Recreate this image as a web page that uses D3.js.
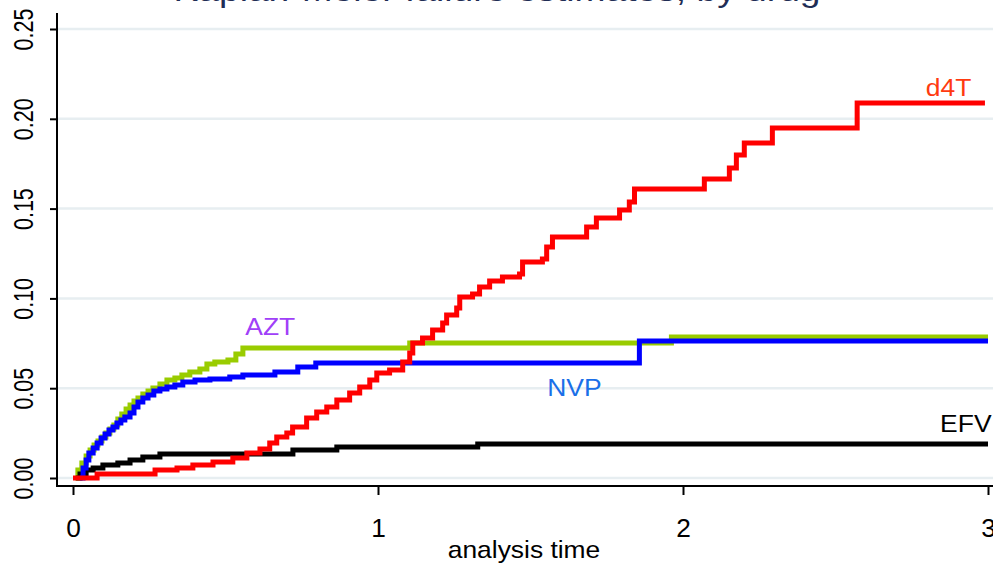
<!DOCTYPE html>
<html>
<head>
<meta charset="utf-8">
<script src="https://cdnjs.cloudflare.com/ajax/libs/d3/7.8.5/d3.min.js"></script>
<style>
body{margin:0;background:#fff;}
text{font-family:"Liberation Sans",Arial,sans-serif;}
</style>
</head>
<body>
<div id="km_div"></div>
<script>
////////////////////////////////////////
////////////////////////////////////////
////////////////////////////////////////

var km_w = 993;
var km_h = 566;

// analysis time (years) / failure estimate, per drug
var azt_time = [0.007,0.016,0.029,0.043,0.056,0.069,0.082,0.095,0.108,0.121,0.134,0.147,0.160,0.174,0.187,0.200,0.213,0.229,0.246,0.262,0.285,0.308,0.334,0.357,0.383,0.416,0.439,0.465,0.508,0.534,0.557,1.104,1.962,3.0];
var azt_fail = [0,0.0045,0.0084,0.0122,0.0156,0.0184,0.0206,0.0228,0.0251,0.0273,0.0295,0.0329,0.0356,0.0384,0.0406,0.0429,0.0445,0.0468,0.0484,0.0501,0.0523,0.0546,0.0557,0.0573,0.059,0.0607,0.0635,0.0646,0.0657,0.069,0.0724,0.0752,0.0785,0.0785];

var nvp_time = [0.023,0.033,0.043,0.052,0.066,0.079,0.092,0.105,0.118,0.131,0.144,0.157,0.170,0.187,0.200,0.213,0.229,0.246,0.265,0.285,0.308,0.334,0.360,0.400,0.449,0.514,0.557,0.662,0.737,0.796,1.857,3.0];
var nvp_fail = [0,0.0056,0.01,0.0139,0.0167,0.0195,0.0223,0.0245,0.0267,0.0284,0.0306,0.0323,0.034,0.0362,0.0395,0.0423,0.0445,0.0462,0.0484,0.0496,0.0507,0.0518,0.0535,0.0546,0.0551,0.0562,0.0573,0.059,0.0618,0.064,0.0763,0.0763];

var efv_time = [0.01,0.023,0.043,0.066,0.098,0.147,0.187,0.229,0.285,0.721,0.865,1.327,3.0];
var efv_fail = [0,0.0022,0.0045,0.0056,0.0072,0.0084,0.01,0.0117,0.0134,0.0156,0.0173,0.0189,0.0189];

var d4t_time = [0,0.079,0.269,0.341,0.393,0.459,0.524,0.57,0.613,0.645,0.668,0.701,0.72,0.766,0.799,0.832,0.865,0.907,0.94,0.973,0.996,1.038,1.081,1.104,1.114,1.146,1.179,1.212,1.225,1.258,1.268,1.31,1.333,1.366,1.408,1.464,1.474,1.539,1.553,1.572,1.684,1.716,1.792,1.824,1.841,2.07,2.152,2.175,2.201,2.293,2.571,2.99];
var d4t_fail = [0,0.0022,0.0045,0.0056,0.0072,0.0089,0.0111,0.0139,0.0161,0.0195,0.0228,0.0251,0.0284,0.0334,0.0367,0.0395,0.0434,0.0473,0.0507,0.0546,0.0585,0.0601,0.0646,0.0696,0.0752,0.078,0.0824,0.0863,0.0908,0.0947,0.1008,0.1024,0.1063,0.1097,0.1119,0.1136,0.1203,0.1219,0.1286,0.1342,0.1398,0.1448,0.1492,0.1537,0.1609,0.1665,0.1726,0.1798,0.1865,0.1949,0.2088,0.2088];

var drug_names = ['AZT','EFV','NVP','d4T'];
var drug_lineColors = ['#99cc00','#000000','#0000ff','#ff0000'];
var drug_labelColors = ['#a040f8','#000000','#1a6fe8','#ff3a10'];

var x_ticks = [0,1,2,3];
var y_ticks = [0,0.05,0.10,0.15,0.20,0.25];

var km_title = 'Kaplan-Meier failure estimates, by drug';
var km_xTitle = 'analysis time';

////////////////////////////////////////
////////////////////////////////////////
////////////////////////////////////////

var km_x = d3.scaleLinear().domain([0,3]).range([73,988]);
var km_y = d3.scaleLinear().domain([0,0.25]).range([478,29]);

var km_axisX = 57;
var km_axisY = 486;

var kmSVG = d3.select('#km_div').append('svg')
	.attr('width',km_w)
	.attr('height',km_h)
	.style('display','block');

kmSVG.append('rect')
	.attr('width',km_w)
	.attr('height',km_h)
	.attr('fill','white');

// gridlines
kmSVG.append('g').selectAll('line')
	.data(y_ticks)
	.enter().append('line')
	.attr('x1',km_axisX)
	.attr('x2',km_w)
	.attr('y1',function(d){ return km_y(d); })
	.attr('y2',function(d){ return km_y(d); })
	.attr('stroke','#e7eef1')
	.attr('stroke-width',2.5);

// y axis
var yAxis = kmSVG.append('g')
	.attr('transform','translate('+km_axisX+',0)')
	.call(d3.axisLeft(km_y).tickValues(y_ticks).tickSizeInner(7).tickSizeOuter(0).tickFormat(d3.format('.2f')));
yAxis.select('.domain').remove();
yAxis.selectAll('.tick line').attr('stroke','black').attr('stroke-width',2);
yAxis.selectAll('.tick text')
	.attr('x',null)
	.attr('dy',null)
	.attr('fill','black')
	.attr('font-size',21.5)
	.attr('text-anchor','middle')
	.attr('transform','translate(-24,0) scale(1.27,1) rotate(-90)');

// x axis
var xAxis = kmSVG.append('g')
	.attr('transform','translate(0,'+km_axisY+')')
	.call(d3.axisBottom(km_x).tickValues(x_ticks).tickSizeInner(9).tickSizeOuter(0).tickFormat(d3.format('d')));
xAxis.select('.domain').remove();
xAxis.selectAll('.tick line').attr('stroke','black').attr('stroke-width',2);
xAxis.selectAll('.tick text')
	.attr('y',0)
	.attr('dy',null)
	.attr('fill','black')
	.attr('font-size',25)
	.attr('transform','translate(0,51) scale(1.05,1)');

// axis lines
kmSVG.append('line')
	.attr('x1',km_axisX).attr('x2',km_axisX)
	.attr('y1',13).attr('y2',km_axisY+1)
	.attr('stroke','black').attr('stroke-width',2);
kmSVG.append('line')
	.attr('x1',km_axisX-1).attr('x2',km_w)
	.attr('y1',km_axisY).attr('y2',km_axisY)
	.attr('stroke','black').attr('stroke-width',2);

////////////////////////////////////////
////////////////////////////////////////
////////////////////////////////////////

function km_points(times,fails){
	return times.map(function(t,i){ return [t,fails[i]]; });
}

var km_curves = [
	km_points(azt_time,azt_fail),
	km_points(efv_time,efv_fail),
	km_points(nvp_time,nvp_fail),
	km_points(d4t_time,d4t_fail)
];

var km_line = d3.line()
	.curve(d3.curveStepAfter)
	.x(function(d){ return km_x(d[0]); })
	.y(function(d){ return km_y(d[1]); });

kmSVG.append('g').selectAll('path')
	.data(km_curves)
	.enter().append('path')
	.attr('d',km_line)
	.attr('fill','none')
	.attr('stroke',function(d,i){ return drug_lineColors[i]; })
	.attr('stroke-width',5)
	.attr('stroke-linejoin','miter');

// curve labels (placed in data units)
var km_labelPos = [[0.565,0.0795],[2.843,0.0255],[1.555,0.0455],[2.796,0.2125]];

kmSVG.append('g').selectAll('text')
	.data(drug_names)
	.enter().append('text')
	.attr('transform',function(d,i){
		return 'translate('+km_x(km_labelPos[i][0])+','+km_y(km_labelPos[i][1])+') scale(1.08,1)';
	})
	.attr('fill',function(d,i){ return drug_labelColors[i]; })
	.attr('font-size',24.5)
	.text(function(d){ return d; });

////////////////////////////////////////
////////////////////////////////////////
////////////////////////////////////////

kmSVG.append('text')
	.attr('transform','translate(497,0.5) scale(1.2,1)')
	.attr('text-anchor','middle')
	.attr('fill','#1f2d55')
	.attr('font-size',31)
	.text(km_title);

kmSVG.append('text')
	.attr('transform','translate(524,558) scale(1.1,1)')
	.attr('text-anchor','middle')
	.attr('fill','black')
	.attr('font-size',24)
	.text(km_xTitle);
</script>
</body>
</html>
